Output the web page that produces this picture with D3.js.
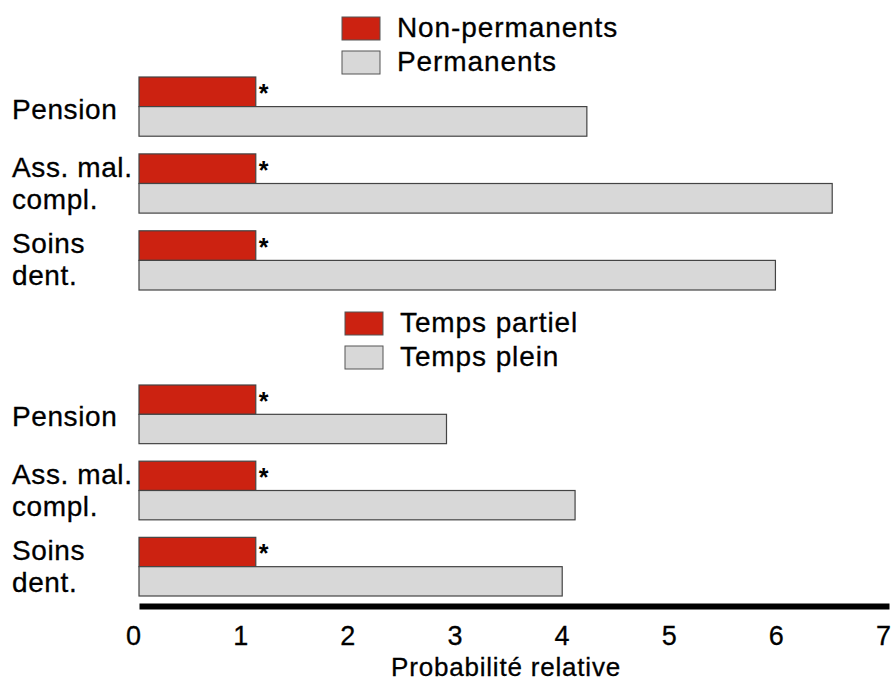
<!DOCTYPE html>
<html><head><meta charset="utf-8">
<script src="https://cdn.jsdelivr.net/npm/d3@7"></script>
<style>html,body{margin:0;padding:0;background:#fff;} svg{display:block;font-family:"Liberation Sans",Arial,Helvetica,sans-serif;}</style>
</head><body>
<script>
// ---- data ----
const categories = ["Pension", "Ass. mal. compl.", "Soins dent."];
const categoryLines = [["Pension"], ["Ass. mal.", "compl."], ["Soins", "dent."]];
const panel1Series = ["Non-permanents", "Permanents"];
const panel1Values = [[1.09, 1.09, 1.09], [4.18, 6.47, 5.94]];
const panel2Series = ["Temps partiel", "Temps plein"];
const panel2Values = [[1.09, 1.09, 1.09], [2.87, 4.07, 3.95]];
const significant = [true, true, true];
const xTicks = [0, 1, 2, 3, 4, 5, 6, 7];
const xTitle = "Probabilité relative";
const seriesColors = ["#cc2211", "#d8d8d8"];

const W = 896, H = 683;
const svg = d3.select("body").append("svg").attr("width", W).attr("height", H);

const x = d3.scaleLinear().domain([0, 7]).range([139, 889]);

const panels = [
  {series: panel1Series, values: panel1Values, yRange: [77, 290], legendX: 342, legendY: 17},
  {series: panel2Series, values: panel2Values, yRange: [385, 596], legendX: 345, legendY: 312}
];

panels.forEach(p => {
  const y = d3.scaleBand().domain(categories).range(p.yRange).paddingInner(0.23).paddingOuter(0);
  const ys = d3.scaleBand().domain(d3.range(p.series.length)).range([0, y.bandwidth()]);
  const g = svg.append("g");

  // bars
  p.series.forEach((s, si) => {
    g.selectAll(null).data(categories).enter().append("rect")
      .attr("x", x(0))
      .attr("y", (c) => y(c) + ys(si))
      .attr("width", (c, i) => x(p.values[si][i]) - x(0))
      .attr("height", ys.bandwidth())
      .attr("fill", seriesColors[si])
      .attr("stroke", "#444")
      .attr("stroke-width", 1.2);
  });

  // asterisks
  g.selectAll(null).data(categories).enter().filter((c, i) => significant[i]).append("text")
    .attr("x", (c, i) => x(p.values[0][i]) + 3)
    .attr("y", c => y(c) + ys(0) + ys.bandwidth() / 2 + 10)
    .attr("font-size", 25).attr("font-weight", "bold").attr("fill", "#000")
    .text("*");

  // category labels
  categories.forEach((c, i) => {
    const lines = categoryLines[i];
    const cy = y(c) + y.bandwidth() / 2;
    const offs = lines.length === 1 ? [12] : [-7, 25];
    lines.forEach((ln, li) => {
      g.append("text").attr("x", 12).attr("y", cy + offs[li])
        .attr("font-size", 28).attr("letter-spacing", 0.6)
        .attr("fill", "#000").attr("stroke", "#000").attr("stroke-width", 0.3).text(ln);
    });
  });

  // legend
  p.series.forEach((s, si) => {
    const ly = p.legendY + si * 34;
    g.append("rect").attr("x", p.legendX).attr("y", ly).attr("width", 38).attr("height", 23)
      .attr("fill", seriesColors[si]).attr("stroke", "#555").attr("stroke-width", 1);
    g.append("text").attr("x", p.legendX + 55).attr("y", ly + 20)
      .attr("font-size", 28).attr("letter-spacing", 0.9)
      .attr("fill", "#000").attr("stroke", "#000").attr("stroke-width", 0.3).text(s);
  });
});

// x axis
const axis = svg.append("g").attr("transform", "translate(0,606)")
  .call(d3.axisBottom(x).tickValues(xTicks).tickSize(0).tickPadding(0).tickFormat(d3.format("d")));
axis.select(".domain").attr("stroke", "#000").attr("stroke-width", 6);
axis.selectAll(".tick text")
  .attr("font-size", 27).attr("fill", "#000").attr("stroke", "#000").attr("stroke-width", 0.3)
  .attr("font-family", "'Liberation Sans',Arial,sans-serif")
  .attr("dx", -6).attr("y", 20).attr("dy", "0.71em");

svg.append("text").attr("x", 506).attr("y", 676).attr("text-anchor", "middle")
  .attr("font-size", 26).attr("letter-spacing", 0.8)
  .attr("fill", "#000").attr("stroke", "#000").attr("stroke-width", 0.3).text(xTitle);
</script>
</body></html>
